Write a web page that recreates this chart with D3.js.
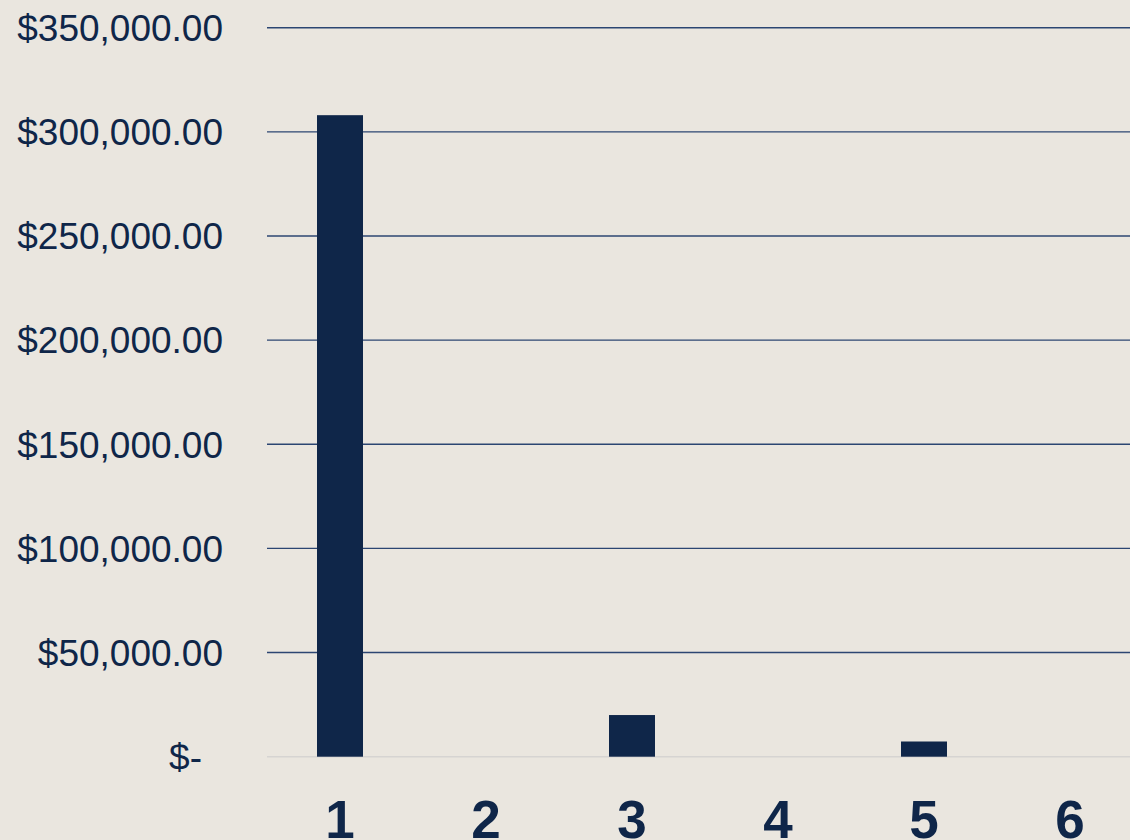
<!DOCTYPE html>
<html>
<head>
<meta charset="utf-8">
<script src="https://cdn.jsdelivr.net/npm/d3@7"></script>
<style>
  html, body { margin: 0; padding: 0; background: #EAE6DF; }
  svg { display: block; }
</style>
</head>
<body>
<script>
var categories = ['1', '2', '3', '4', '5', '6']
var values = [308000, 0, 20000, 0, 7300, 0]
var yTicks = [0, 50000, 100000, 150000, 200000, 250000, 300000, 350000]

var width = 1130, height = 840
var navy = '#0F2649'

var svg = d3.select('body')
            .append('svg')
            .attr('width', width)
            .attr('height', height)

svg.append('rect')
   .attr('width', width)
   .attr('height', height)
   .attr('fill', '#EAE6DF')

// plot runs past the right edge, as in the original
var x = d3.scaleBand()
          .domain(categories)
          .range([267, 267 + 6 * 146])
          .paddingInner(0.685)
          .paddingOuter(0.3425)

var y = d3.scaleLinear()
          .domain([0, 350000])
          .range([756.7, 27.7])

var money = d3.format('$,.2f')

// gridlines
svg.selectAll('line.grid')
   .data(yTicks)
   .enter()
   .append('line')
   .attr('class', 'grid')
   .attr('x1', 267)
   .attr('x2', width)
   .attr('y1', function(d){ return y(d) })
   .attr('y2', function(d){ return y(d) })
   .attr('stroke', function(d){ return d === 0 ? '#D6D4D2' : '#2C4672' })
   .attr('stroke-width', 1.4)

// y labels
svg.selectAll('text.ylab')
   .data(yTicks)
   .enter()
   .append('text')
   .attr('class', 'ylab')
   .text(function(d){ return d === 0 ? '$-' : money(d) })
   .attr('x', function(d){ return d === 0 ? 202 : 223 })
   .attr('y', function(d){ return y(d) + 13.3 })
   .attr('text-anchor', 'end')
   .attr('font-family', 'Liberation Sans, Arial, sans-serif')
   .attr('font-size', 37)
   .attr('fill', navy)

// bars
svg.selectAll('rect.bar')
   .data(values)
   .enter()
   .append('rect')
   .attr('class', 'bar')
   .attr('x', function(d, i){ return x(categories[i]) })
   .attr('width', x.bandwidth())
   .attr('y', function(d){ return y(d) })
   .attr('height', function(d){ return y(0) - y(d) })
   .attr('fill', navy)

// x labels
svg.selectAll('text.xlab')
   .data(categories)
   .enter()
   .append('text')
   .attr('class', 'xlab')
   .text(function(d){ return d })
   .attr('x', function(d){ return x(d) + x.bandwidth() / 2 })
   .attr('y', 838)
   .attr('text-anchor', 'middle')
   .attr('font-family', 'Liberation Sans, Arial, sans-serif')
   .attr('font-weight', 'bold')
   .attr('font-size', 53)
   .attr('fill', navy)
</script>
</body>
</html>
